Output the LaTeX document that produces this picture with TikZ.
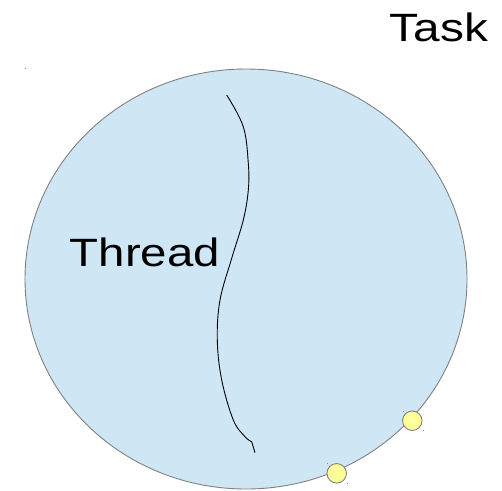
\documentclass[tikz,border=0pt]{standalone}
\usepackage{fontspec}
\setmainfont{Liberation Sans}
\usetikzlibrary{shapes.geometric}
\definecolor{taskfill}{RGB}{207,231,245}
\definecolor{edgegray}{RGB}{128,128,128}
\definecolor{pinfill}{RGB}{255,255,153}
\tikzset{
  taskbody/.style={ellipse, draw=edgegray, line width=0.9pt, fill=taskfill,
    minimum width=442pt, minimum height=420pt, inner sep=0pt},
  pin/.style={circle, draw=edgegray, line width=0.9pt, fill=pinfill,
    minimum size=19.5pt, inner sep=0pt},
  bigtext/.style={inner sep=0pt, anchor=base west,
    font=\fontsize{39.5pt}{39.5pt}\selectfont},
  threadline/.style={black, line width=0.9pt},
  marker/.style={fill=edgegray, inner sep=0pt, minimum size=1pt},
}
\begin{document}
\begin{tikzpicture}[x=1pt, y=-1pt]
  \useasboundingbox (0,0) rectangle (502,490);
  % process body
  \node[taskbody] (task) at (246,279) {};
  % corner markers of the selection box
  \node[marker] (m0) at (25,68) {};
  % thread of execution
  \draw[threadline] plot[smooth, tension=0.6] coordinates {
    (226.7,95) (243.3,126.7) (248.3,163.3) (248.3,190) (243.3,220)
    (231.7,258.3) (220,300) (217.3,340) (221.7,380) (233.3,420)
    (245,436.7) (251.7,441.7)} -- (255,452.7);
  % labels
  \node[bigtext] (tasklabel) at (389.5,41) {\scalebox{1.21}[1]{Task}};
  \node[bigtext] (threadlabel) at (69.5,266.5) {\scalebox{1.2}[1]{Thread}};
  % ports on the boundary
  \node[pin] (p1) at (412.3,420.7) {};
  \node[pin] (p2) at (336.7,473.3) {};
  \node[marker] (m1) at (403,411) {};
  \node[marker] (m2) at (423,430) {};
  \node[marker] (m3) at (327,463) {};
  \node[marker] (m4) at (347,483) {};
\end{tikzpicture}
\end{document}
